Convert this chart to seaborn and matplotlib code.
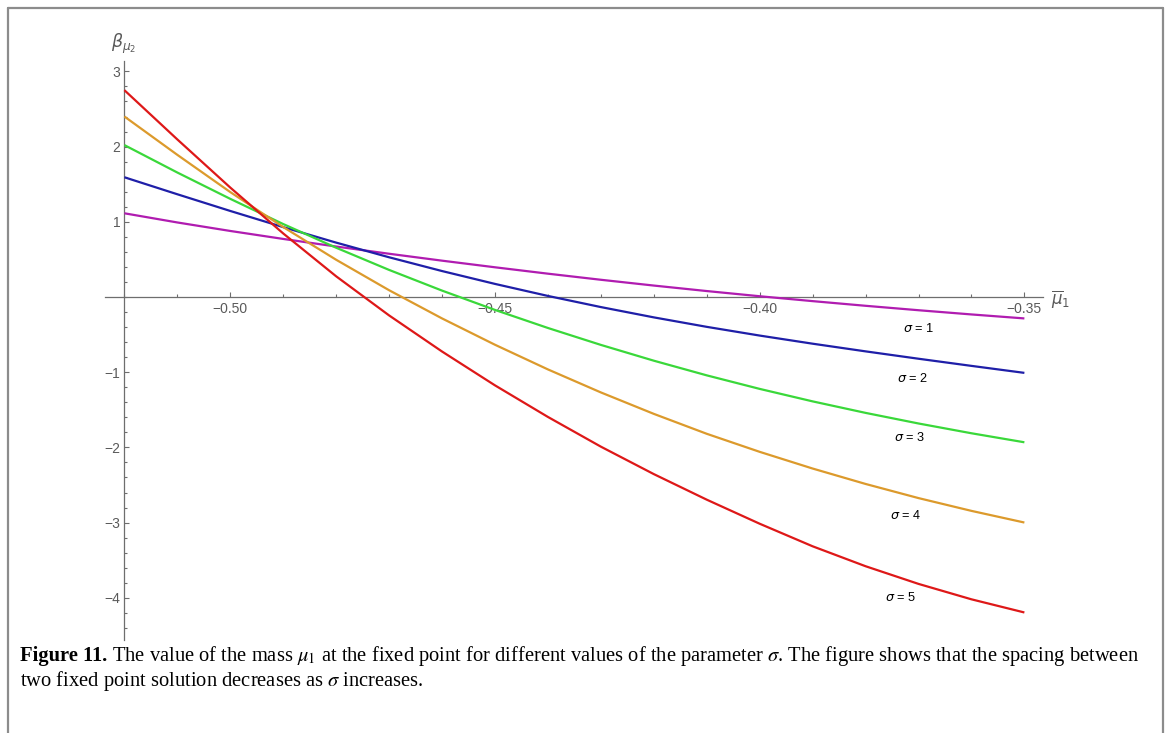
import numpy as np
import pandas as pd
import matplotlib
matplotlib.use("Agg")
import matplotlib.pyplot as plt
from matplotlib.lines import Line2D
from matplotlib.ticker import MultipleLocator
import seaborn as sns

# fixed-point value beta_mu2 against mu1-bar, one curve per sigma
mu1 = [-0.52, -0.51, -0.50, -0.49, -0.48, -0.47, -0.46, -0.45, -0.44,
       -0.43, -0.42, -0.41, -0.40, -0.39, -0.38, -0.37, -0.36, -0.35]
beta_sigma1 = [1.113, 0.991, 0.878, 0.772, 0.671, 0.575, 0.483, 0.395, 0.31,
               0.229, 0.152, 0.079, 0.01, -0.055, -0.117, -0.176, -0.232, -0.285]
beta_sigma2 = [1.592, 1.366, 1.144, 0.929, 0.723, 0.528, 0.345, 0.174, 0.014,
               -0.134, -0.271, -0.397, -0.513, -0.621, -0.723, -0.821, -0.916, -1.009]
beta_sigma3 = [2.02, 1.655, 1.305, 0.97, 0.655, 0.36, 0.085, -0.172, -0.412,
               -0.637, -0.847, -1.042, -1.222, -1.388, -1.541, -1.682, -1.812, -1.932]
beta_sigma4 = [2.40, 1.89, 1.395, 0.93, 0.495, 0.09, -0.285, -0.635, -0.963,
               -1.269, -1.554, -1.819, -2.059, -2.281, -2.486, -2.674, -2.844, -2.999]
beta_sigma5 = [2.75, 2.095, 1.455, 0.845, 0.275, -0.245, -0.725, -1.175, -1.595,
               -1.99, -2.355, -2.695, -3.015, -3.315, -3.58, -3.815, -4.02, -4.195]

sigmas = [1, 2, 3, 4, 5]
curve_labels = [r"$\sigma$ = 1", r"$\sigma$ = 2", r"$\sigma$ = 3",
                r"$\sigma$ = 4", r"$\sigma$ = 5"]
x_ticks = [-0.50, -0.45, -0.40, -0.35]
x_tick_labels = ["\u22120.50", "\u22120.45", "\u22120.40", "\u22120.35"]
y_ticks = [3, 2, 1, -1, -2, -3, -4]
y_tick_labels = ["3", "2", "1", "\u22121", "\u22122", "\u22123", "\u22124"]

caption_head = "Figure 11."
caption_line1 = (r" The value of the mass $\mu_1$ at the fixed point for different values "
                 r"of the parameter $\sigma$. The figure shows that the spacing between")
caption_line2 = r"two fixed point solution decreases as $\sigma$ increases."

# styling
colors = ["#b01cb0", "#1f1fa8", "#3ad83a", "#dc9a2c", "#de1818"]
label_xy = [(-0.3699, -0.416), (-0.3711, -1.090), (-0.3717, -1.866),
            (-0.3724, -2.899), (-0.3733, -3.990)]
axis_grey = "#6e6e6e"
text_grey = "#5a5a5a"

sns.set_style("white")
plt.rcParams["font.family"] = ["Liberation Sans", "DejaVu Sans"]
plt.rcParams["axes.unicode_minus"] = True

curves = [beta_sigma1, beta_sigma2, beta_sigma3, beta_sigma4, beta_sigma5]
df = pd.DataFrame({
    "mu1": np.tile(mu1, len(sigmas)),
    "beta": np.concatenate(curves),
    "sigma": np.repeat(sigmas, len(mu1)),
})

W, H = 1170, 733
fig = plt.figure(figsize=(W / 100, H / 100), dpi=100)
fig.patch.set_facecolor("white")
ax = fig.add_axes([104.7 / W, 93 / H, 938 / W, 579 / H])

sns.lineplot(data=df, x="mu1", y="beta", hue="sigma",
             palette=dict(zip(sigmas, colors)), linewidth=1.6,
             legend=False, sort=False, ax=ax, zorder=3)
for line in ax.get_lines():
    line.set_solid_joinstyle("round")
    line.set_solid_capstyle("butt")

ax.set_xlim(-0.52372, -0.34654)
ax.set_ylim(-4.561, 3.138)
ax.set_xlabel("")
ax.set_ylabel("")

# axes crossing at (-0.52, 0)
for side in ("top", "right"):
    ax.spines[side].set_visible(False)
ax.spines["left"].set_position(("data", -0.52))
ax.spines["bottom"].set_position(("data", 0.0))
for side in ("left", "bottom"):
    ax.spines[side].set_color(axis_grey)
    ax.spines[side].set_linewidth(0.9)

ax.set_xticks(x_ticks, labels=x_tick_labels)
ax.set_yticks(y_ticks, labels=y_tick_labels)
ax.xaxis.set_minor_locator(MultipleLocator(0.01))
ax.yaxis.set_minor_locator(MultipleLocator(0.2))
ax.tick_params(axis="both", which="both", direction="in", color=axis_grey,
               width=0.8, labelcolor=text_grey, labelsize=10,
               bottom=True, left=True, top=False, right=False)
ax.tick_params(axis="both", which="major", length=3.4)
ax.tick_params(axis="both", which="minor", length=2.2)
ax.tick_params(axis="x", which="major", pad=3.5)
ax.tick_params(axis="y", which="major", pad=3)

for (lx, ly), txt in zip(label_xy, curve_labels):
    ax.text(lx, ly, txt, ha="center", va="center", fontsize=9.2, color="black")

fig.text(124 / W, 1 - 44 / H, r"$\beta_{\mu_2}$", ha="center", va="center",
         fontsize=12.5, color=text_grey)
fig.text(1061 / W, 1 - 299 / H, r"$\overline{\mu}_1$", ha="center", va="center",
         fontsize=12, color=text_grey)

# page frame
frame = dict(transform=fig.transFigure, color="#8c8c8c", linewidth=1.6)
fig.add_artist(Line2D([8 / W, 8 / W], [0, 1 - 8 / H], **frame))
fig.add_artist(Line2D([8 / W, 1163 / W], [1 - 8 / H, 1 - 8 / H], **frame))
fig.add_artist(Line2D([1163 / W, 1163 / W], [0, 1 - 8 / H], **frame))

# caption, sized so the first line spans the text block
fig.canvas.draw()
renderer = fig.canvas.get_renderer()
x_left, x_right = 20, 1136
base1, base2 = 661, 686
serif = dict(family=["Liberation Serif", "DejaVu Serif"], math_fontfamily="stix",
             color="black", va="baseline", ha="left")


def caption_width(fs):
    a = fig.text(0, 0, caption_head, fontsize=fs, fontweight="bold", **serif)
    b = fig.text(0, 0, caption_line1, fontsize=fs, **serif)
    w = a.get_window_extent(renderer).width + b.get_window_extent(renderer).width
    a.remove()
    b.remove()
    return w


fs = 12.0
fs = fs * (x_right - x_left) / caption_width(fs)
head = fig.text(x_left / W, 1 - base1 / H, caption_head, fontsize=fs,
                fontweight="bold", **serif)
hw = head.get_window_extent(renderer).width
fig.text((x_left + hw) / W, 1 - base1 / H, caption_line1, fontsize=fs, **serif)
fig.text(x_left / W, 1 - base2 / H, caption_line2, fontsize=fs, **serif)

fig.savefig("out.png", dpi=100, facecolor="white")
